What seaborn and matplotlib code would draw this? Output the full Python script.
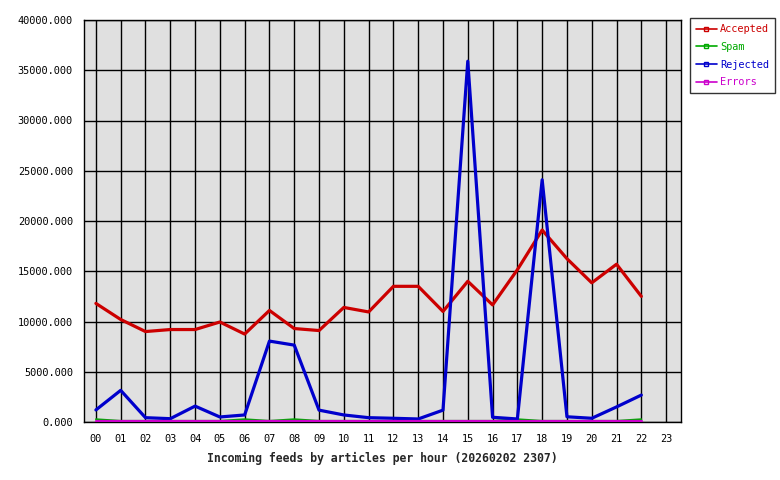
import matplotlib
matplotlib.use("Agg")
import matplotlib.pyplot as plt
import seaborn as sns
import pandas as pd
from matplotlib.ticker import FuncFormatter
from matplotlib.lines import Line2D

hours = ["00", "01", "02", "03", "04", "05", "06", "07", "08", "09", "10", "11",
         "12", "13", "14", "15", "16", "17", "18", "19", "20", "21", "22"]
all_hours = hours + ["23"]

accepted = [11800, 10200, 9000, 9200, 9200, 9950, 8750, 11100, 9300, 9100, 11400, 10950,
            13500, 13500, 11000, 14000, 11650, 15150, 19100, 16250, 13850, 15700, 12500]
spam = [280, 120, 120, 120, 120, 120, 280, 120, 280, 120, 120, 120,
        120, 120, 120, 120, 120, 280, 120, 120, 120, 120, 280]
rejected = [1200, 3150, 430, 330, 1580, 500, 700, 8050, 7650, 1180, 700, 430,
            370, 300, 1180, 35900, 470, 300, 24100, 520, 370, 1500, 2680]
errors = [140] * 23

series_names = ["Accepted", "Spam", "Rejected", "Errors"]
colors = {"Accepted": "#cc0000", "Spam": "#00aa00", "Rejected": "#0000cc", "Errors": "#cc00cc"}
widths = {"Accepted": 2.3, "Spam": 1.3, "Rejected": 2.3, "Errors": 2.3}

df = pd.concat([
    pd.DataFrame({"hour": range(len(hours)), "value": vals, "series": name})
    for name, vals in zip(series_names, [accepted, spam, rejected, errors])
])

sns.set_style("white")
plt.rcParams['font.family'] = ['DejaVu Sans Mono']

fig = plt.figure(figsize=(7.8, 4.8), dpi=100)
ax = fig.add_axes([84/780, 1-422/480, (681-84)/780, (422-20)/480])
ax.set_facecolor("#e0e0e0")

for name in ["Accepted", "Spam", "Rejected", "Errors"]:
    sub = df[df["series"] == name]
    sns.lineplot(data=sub, x="hour", y="value", ax=ax, color=colors[name],
                 linewidth=widths[name], legend=False, zorder=3)

ax.set_xlim(-0.48, 23.6)
ax.set_ylim(0, 40000)
ax.set_xticks(range(len(all_hours)))
ax.set_xticklabels(all_hours)
ax.set_yticks(range(0, 40001, 5000))
ax.yaxis.set_major_formatter(FuncFormatter(lambda v, p: f"{v:.3f}"))
ax.grid(True, color="black", linewidth=1.0, zorder=1)
ax.set_axisbelow(True)
for s in ax.spines.values():
    s.set_color("black")
    s.set_linewidth(1.0)
ax.tick_params(axis="both", which="major", length=5, width=1, color="black",
               labelsize=7.4, labelcolor="black", direction="out")
ax.tick_params(axis="x", pad=4)
ax.tick_params(axis="y", pad=3)
ax.set_xlabel("Incoming feeds by articles per hour (20260202 2307)",
              fontsize=8.3, fontweight="bold", labelpad=5)
ax.set_ylabel("")

handles = [Line2D([0], [0], color=colors[n], linewidth=1.2, marker="s", markersize=3,
                  markerfacecolor="none", markeredgecolor=colors[n]) for n in series_names]
leg = fig.legend(handles, series_names, loc="upper left",
                 bbox_to_anchor=(690/780, 1-18/480), frameon=True, fancybox=False,
                 edgecolor="black", fontsize=7.4, handlelength=2.0, handletextpad=0.3,
                 borderpad=0.6, labelspacing=0.75, borderaxespad=0)
leg.get_frame().set_linewidth(1.0)
for t, n in zip(leg.get_texts(), series_names):
    t.set_color(colors[n])

fig.savefig("out.png", dpi=100)
